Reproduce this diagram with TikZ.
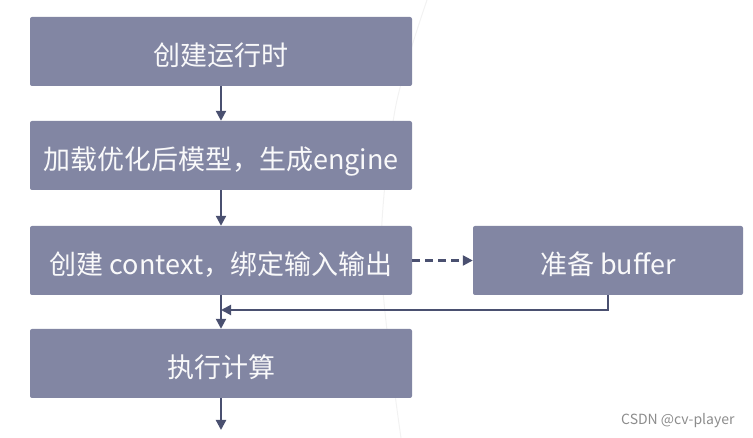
\documentclass[tikz,border=0pt]{standalone}
\usepackage{fontspec}
\setmainfont{Noto Sans CJK SC}
\usetikzlibrary{arrows.meta}
\definecolor{boxfill}{RGB}{130,134,163}
\definecolor{linecol}{RGB}{74,80,112}

\begin{document}
\begin{tikzpicture}[x=1pt,y=-1pt,
    stepbox/.style={fill=boxfill,rounded corners=2pt,minimum height=69pt,inner sep=0pt,
      text height=28pt,text depth=0pt,text=white!95!boxfill,font=\fontsize{27}{31}\selectfont},
    mainbox/.style={stepbox,minimum width=382pt},
    flow/.style={draw=linecol,line width=2.2pt,-{Triangle[length=10pt,width=10pt]}}]
    \useasboundingbox (0,0) rectangle (753,438);
    %faint background arc
    \draw [black!5,line width=1pt] plot[smooth] coordinates {(427,0) (395,110) (381,260) (401,438)};
    %steps
    \node [mainbox] (runtime) at (221,51.5) {创建运行时};
    \node [mainbox] (engine) at (221,155.5) {加载优化后模型，生成engine};
    \node [mainbox] (context) at (221,260.5) {创建 context，绑定输入输出};
    \node [stepbox,minimum width=270pt] (buffer) at (608,260.5) {准备 buffer};
    \node [mainbox] (exec) at (221,363.5) {执行计算};
    \coordinate (join) at (221,310);
    \coordinate (out) at (221,430);
    %connectors
    \draw [flow] (runtime) -- (engine);
    \draw [flow] (engine) -- (context);
    \draw [flow] (context) -- (exec);
    \draw [flow] (exec) -- (out);
    \draw [flow,dashed,dash pattern=on 8pt off 5pt] (context) -- (buffer);
    \draw [flow,line width=2pt] (buffer.south) |- (join);
    \node [text=black!45,font=\fontsize{14}{16}\selectfont,anchor=east] (mark) at (738,421) {CSDN @cv-player};
\end{tikzpicture}
\end{document}
